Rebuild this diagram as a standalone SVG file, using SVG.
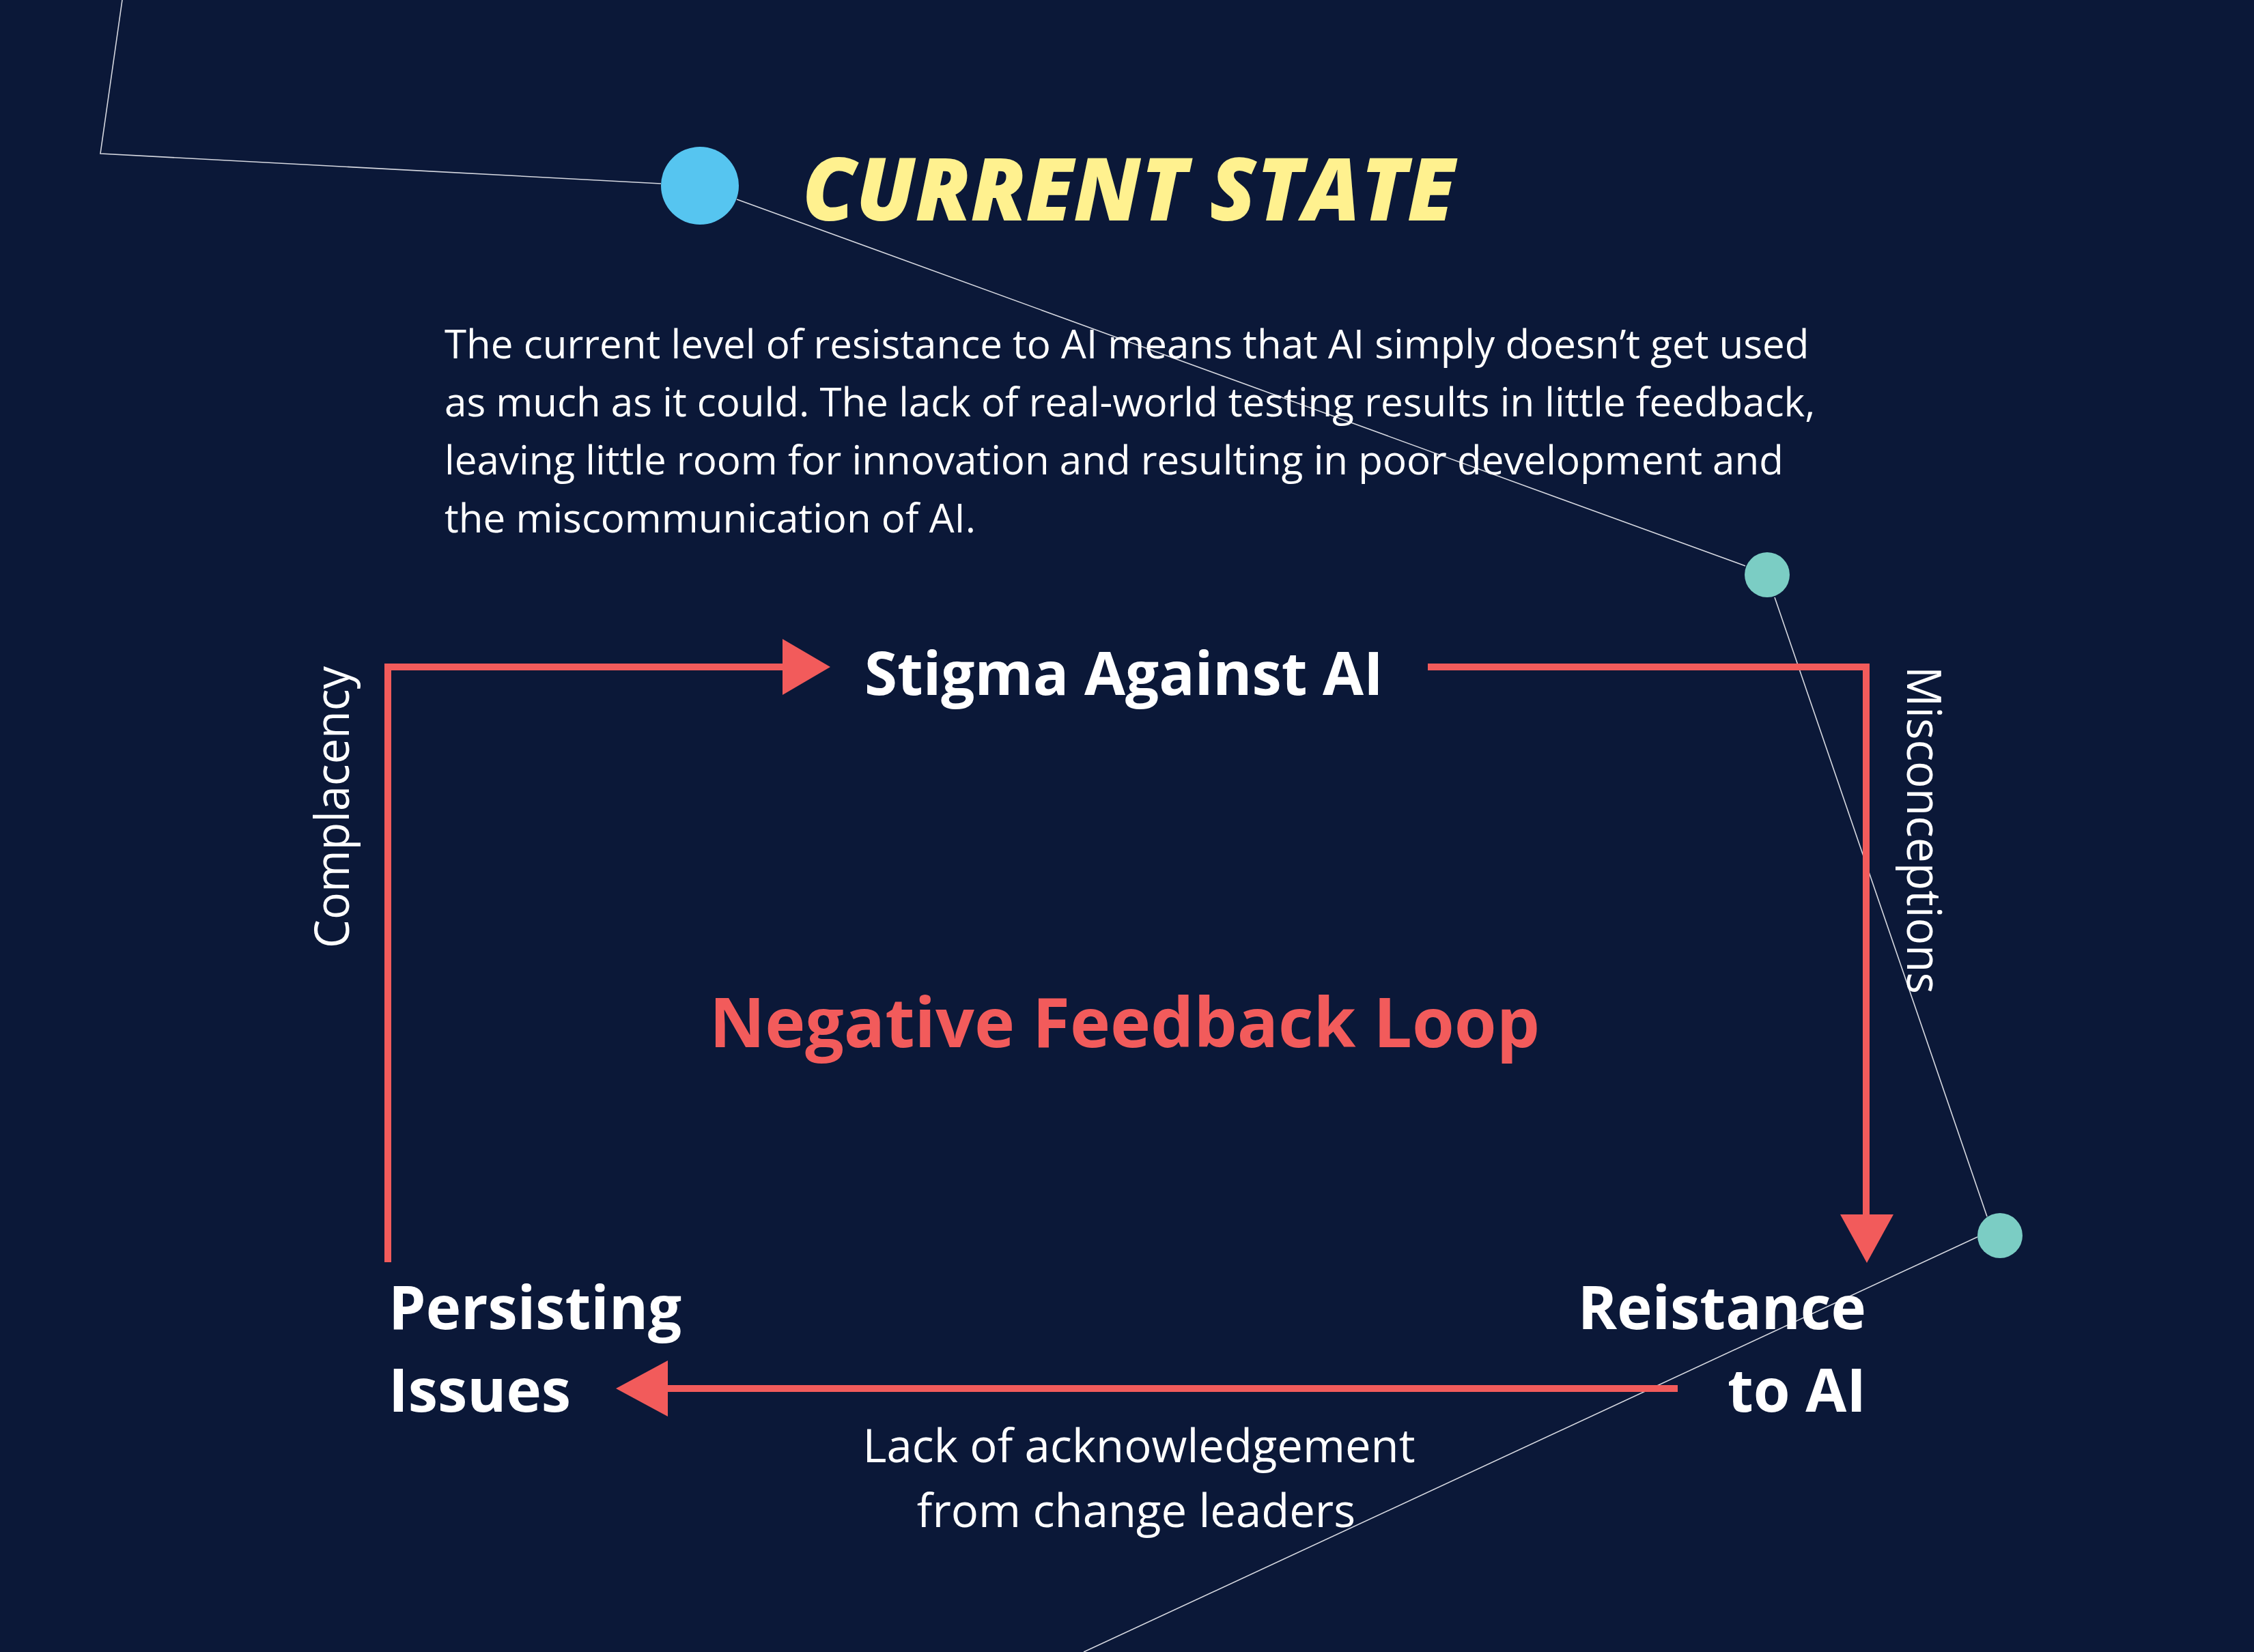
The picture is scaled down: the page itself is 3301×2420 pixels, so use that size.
<svg xmlns="http://www.w3.org/2000/svg" width="3301" height="2420" viewBox="0 0 3301 2420">
  <style>
    .bg { fill: #0b1838; }
    .star { stroke: #d6d8e0; stroke-width: 1.6; fill: none; }
    .flow { stroke: #f25b5b; stroke-width: 10; fill: none; }
    .head { fill: #f25b5b; }
    .node { font-family: "Open Sans", "Liberation Sans", sans-serif; font-weight: 700; font-size: 87px; fill: #ffffff; }
    .label { font-family: "Open Sans", "Liberation Sans", sans-serif; font-weight: 400; font-size: 70px; fill: #ffffff; }
    .body { font-family: "Open Sans", "Liberation Sans", sans-serif; font-weight: 400; font-size: 58.3px; fill: #ffffff; }
    .title { font-family: "Open Sans", "Liberation Sans", sans-serif; font-weight: 800; font-style: italic; font-size: 128px; fill: #fff18f; }
    .loop { font-family: "Open Sans", "Liberation Sans", sans-serif; font-weight: 700; font-size: 100px; fill: #f25b5b; }
    .sub { font-family: "Open Sans", "Liberation Sans", sans-serif; font-weight: 400; font-size: 67px; fill: #ffffff; }
  </style>
  <rect class="bg" x="0" y="0" width="3301" height="2420"/>

  <g id="constellation">
    <polyline class="star" points="179,0 147,225 968,269"/>
    <line class="star" x1="1079" y1="292" x2="2556" y2="829"/>
    <line class="star" x1="2599" y1="875" x2="2910" y2="1782"/>
    <line class="star" x1="2896" y1="1812" x2="1587" y2="2420"/>
    <circle cx="1025" cy="272" r="57" fill="#56c5f0"/>
    <circle cx="2588" cy="842" r="33" fill="#7bcdc4"/>
    <circle cx="2929" cy="1810" r="33" fill="#7bcdc4"/>
  </g>

  <g id="title">
    <text class="title" x="1175" y="323" textLength="956" lengthAdjust="spacingAndGlyphs">CURRENT STATE</text>
  </g>

  <g id="description">
    <text class="body" x="651" y="525">The current level of resistance to AI means that AI simply doesn’t get used</text>
    <text class="body" x="651" y="610">as much as it could. The lack of real-world testing results in little feedback,</text>
    <text class="body" x="651" y="695">leaving little room for innovation and resulting in poor development and</text>
    <text class="body" x="651" y="780">the miscommunication of AI.</text>
  </g>

  <g id="connectors">
    <polyline class="flow" points="568,1849 568,977 1150,977"/>
    <polygon class="head" points="1146,936 1216,977 1146,1018"/>
    <polyline class="flow" points="2091,977 2733,977 2733,1782"/>
    <polygon class="head" points="2695,1779 2773,1779 2734,1850"/>
    <line class="flow" x1="2457" y1="2034" x2="975" y2="2034"/>
    <polygon class="head" points="978,1993 902,2034 978,2075"/>
    <text class="label" transform="translate(511,1389) rotate(-90)" textLength="413" lengthAdjust="spacingAndGlyphs">Complacency</text>
    <text class="label" transform="translate(2793,976) rotate(90)" textLength="480" lengthAdjust="spacingAndGlyphs">Misconceptions</text>
    <text class="sub" x="1668" y="2142" text-anchor="middle">Lack of acknowledgement</text>
    <text class="sub" x="1664" y="2237" text-anchor="middle">from change leaders</text>
  </g>

  <g id="node-stigma">
    <text class="node" x="1266" y="1018">Stigma Against AI</text>
  </g>
  <g id="node-resistance">
    <text class="node" x="2733" y="1947" text-anchor="end">Reistance</text>
    <text class="node" x="2733" y="2068" text-anchor="end">to AI</text>
  </g>
  <g id="node-persisting">
    <text class="node" x="569" y="1947">Persisting</text>
    <text class="node" x="569" y="2068">Issues</text>
  </g>
  <g id="center-label">
    <text class="loop" x="1647" y="1534" text-anchor="middle">Negative Feedback Loop</text>
  </g>
</svg>
